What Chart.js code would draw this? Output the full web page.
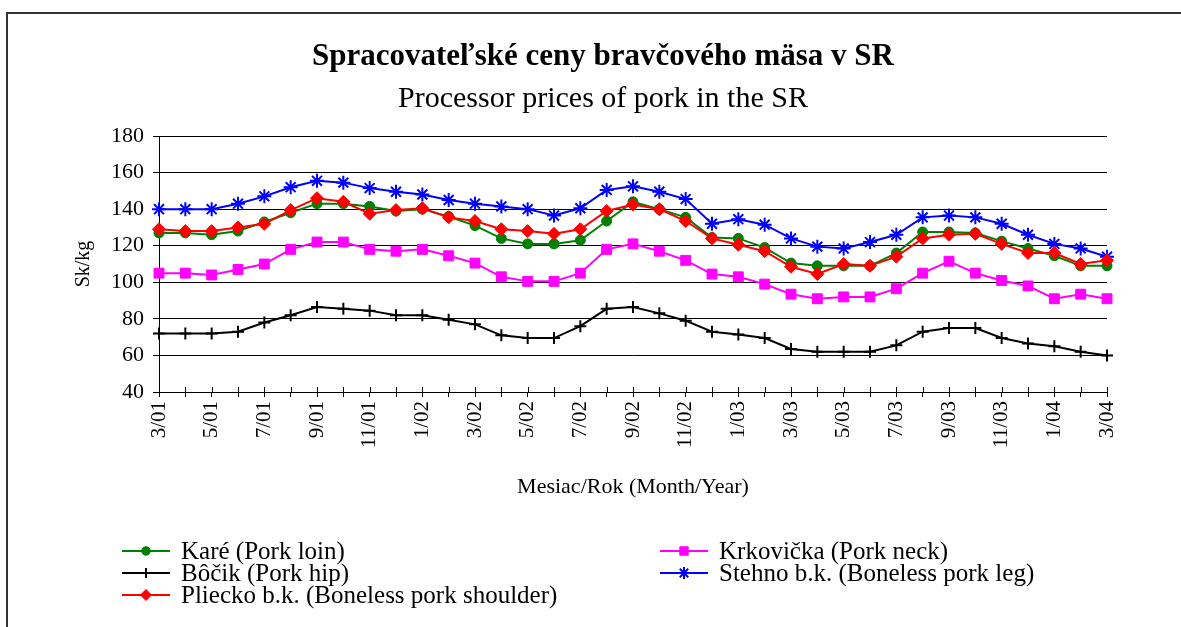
<!DOCTYPE html>
<html>
<head>
<meta charset="utf-8">
<script src="https://cdn.jsdelivr.net/npm/chart.js@4.4.1/dist/chart.umd.min.js"></script>
<style>
    html, body { margin: 0; padding: 0; background: #fff; }
    body { width: 1181px; height: 627px; position: relative; overflow: hidden; font-family: 'Liberation Serif', 'Times New Roman', serif; color: #000; }
    #frame { position: absolute; left: 6px; top: 12px; width: 1400px; height: 800px; border-left: 2px solid #333; border-top: 2px solid #333; }
    #chart { position: absolute; left: 0; top: 0; }
    .title { position: absolute; left: 0; width: 1206px; text-align: center; white-space: nowrap; }
    #t1 { top: 36px; font-size: 31px; font-weight: bold; line-height: 38px; }
    #t2 { top: 78px; font-size: 30px; line-height: 38px; }
    .leg { position: absolute; height: 22px; line-height: 22px; font-size: 25px; white-space: nowrap; }
    .leg canvas { position: absolute; left: 0; top: 3px; }
    .leg span { position: absolute; left: 59px; top: 0; }
</style>
</head>
<body>
<div id="frame"></div>
<canvas id="chart" width="1181" height="627"></canvas>
<div class="title" id="t1">Spracovateľské ceny bravčového mäsa v SR</div>
<div class="title" id="t2">Processor prices of pork in the SR</div>
<div id="legend"></div>
<script>
const months = [
    '3/01', '4/01', '5/01', '6/01', '7/01', '8/01', '9/01', '10/01', '11/01', '12/01',
    '1/02', '2/02', '3/02', '4/02', '5/02', '6/02', '7/02', '8/02', '9/02', '10/02', '11/02', '12/02',
    '1/03', '2/03', '3/03', '4/03', '5/03', '6/03', '7/03', '8/03', '9/03', '10/03', '11/03', '12/03',
    '1/04', '2/04', '3/04'
];

const kare = [127, 127, 126, 128, 133, 138, 143, 143, 141.5, 139, 140, 136, 131, 124, 121, 121, 123,
    133.5, 144, 140, 135.5, 124.5, 124, 119, 110.5, 109, 109, 109, 116, 127.5, 127.5, 127, 122.5, 118.5, 114.5, 109, 109];
const krkovicka = [105, 105, 104, 107, 110, 118, 122, 122, 118, 117, 118, 114.5, 110.5, 103, 100.5, 100.5, 105,
    118, 121, 117, 112, 104.5, 103, 99, 93.5, 91, 92, 92, 96.5, 105, 111.5, 105, 101, 98, 91, 93.5, 91];
const bocik = [72, 72, 72, 73, 78, 82, 86.5, 85.5, 84.5, 82, 82, 79.5, 77, 71, 69.5, 69.5, 76,
    85.5, 86.5, 83, 79, 73, 71.5, 69.5, 63.5, 62, 62, 62, 65.5, 73, 75, 75, 69.5, 66.5, 65, 62, 60];
const stehno = [140, 140, 140, 143, 147, 152, 155.5, 154.5, 151.5, 149.5, 148, 145, 143, 141.5, 140, 136.5, 140.5,
    150.5, 152.5, 149.5, 145.5, 132, 134.5, 131.5, 124, 119.5, 118.5, 122, 126, 135.5, 136.5, 135.5, 132, 126, 121, 118.5, 114];
const pliecko = [129, 128, 128, 130, 132, 139.5, 146, 144, 137.5, 139.5, 140.5, 135.5, 133.5, 129, 128, 126.5, 129,
    139, 142.5, 140, 133.5, 124, 120.5, 117, 108.5, 104.5, 110, 109, 114, 124, 126, 126.5, 121, 116, 116, 110, 112];

const yTicks = [40, 60, 80, 100, 120, 140, 160, 180];

const FONT = "'Liberation Serif', 'Times New Roman', serif";

const series = [
    { label: 'Karé (Pork loin)', data: kare, color: '#008000', style: 'circle', radius: 5, order: 4, legend: [122, 540] },
    { label: 'Krkovička (Pork neck)', data: krkovicka, color: '#ff00ff', style: 'rect', radius: 7, order: 3, legend: [660, 540] },
    { label: 'Bôčik (Pork hip)', data: bocik, color: '#000000', style: 'cross', radius: 6, order: 2, legend: [122, 562] },
    { label: 'Stehno b.k. (Boneless pork leg)', data: stehno, color: '#0000ff', style: 'star', radius: 7, order: 1, legend: [660, 562] },
    { label: 'Pliecko b.k. (Boneless pork shoulder)', data: pliecko, color: '#ff0000', style: 'rectRot', radius: 6.5, order: 0, legend: [122, 584] }
];

const datasets = series.map(s => ({
    label: s.label,
    data: s.data,
    order: s.order,
    borderColor: s.color,
    backgroundColor: s.color,
    borderWidth: 2,
    pointStyle: s.style,
    pointRadius: s.radius,
    pointBorderWidth: (s.style === 'cross' || s.style === 'star') ? 2 : 1,
    pointBorderColor: s.color,
    pointBackgroundColor: s.color,
    tension: 0,
    fill: false
}));

// small tick marks above the x axis (Excel draws them crossing the axis)
const crossTicks = {
    id: 'crossTicks',
    beforeDatasetsDraw(chart) {
        const x = chart.scales.x;
        const c = chart.ctx;
        c.save();
        c.strokeStyle = '#000';
        c.lineWidth = 1;
        c.beginPath();
        x.ticks.forEach((t, i) => {
            const px = Math.round(x.getPixelForTick(i)) + 0.5;
            c.moveTo(px, x.top - 5);
            c.lineTo(px, x.top);
        });
        c.stroke();
        c.restore();
    }
};

new Chart(document.getElementById('chart'), {
    type: 'line',
    data: { labels: months, datasets },
    options: {
        responsive: false,
        animation: false,
        layout: { padding: { left: 68, top: 136, right: 74, bottom: 125 } },
        plugins: {
            legend: { display: false },
            title: { display: false },
            tooltip: { enabled: false }
        },
        scales: {
            x: {
                offset: false,
                grid: { drawOnChartArea: false, color: '#000', tickLength: 5 },
                border: { color: '#000', width: 1 },
                ticks: {
                    autoSkip: false,
                    minRotation: 90,
                    maxRotation: 90,
                    padding: 4,
                    color: '#000',
                    font: { family: FONT, size: 21 },
                    callback: (v, i) => (i % 2 === 0 ? months[i] : '')
                },
                title: {
                    display: true,
                    text: 'Mesiac/Rok (Month/Year)',
                    color: '#000',
                    font: { family: FONT, size: 22 },
                    padding: { top: 2, bottom: 2 }
                },
                afterFit: s => { s.height = 110; }
            },
            y: {
                min: 40,
                max: 180,
                afterBuildTicks: s => { s.ticks = yTicks.map(v => ({ value: v })); },
                grid: { color: '#000', tickLength: 6 },
                border: { color: '#000', width: 1 },
                ticks: {
                    padding: 9,
                    color: '#000',
                    font: { family: FONT, size: 22 }
                },
                title: {
                    display: true,
                    text: 'Sk/kg',
                    color: '#000',
                    font: { family: FONT, size: 20 },
                    padding: { top: 4, bottom: 4 }
                },
                afterFit: s => { s.width = 91; }
            }
        }
    },
    plugins: [crossTicks]
});

// legend: html text with a line + marker sample drawn by Chart.js helpers
const legendBox = document.getElementById('legend');
series.forEach(s => {
    const item = document.createElement('div');
    item.className = 'leg';
    item.style.left = s.legend[0] + 'px';
    item.style.top = s.legend[1] + 'px';
    const cv = document.createElement('canvas');
    cv.width = 50;
    cv.height = 16;
    const span = document.createElement('span');
    span.textContent = s.label;
    item.appendChild(cv);
    item.appendChild(span);
    legendBox.appendChild(item);

    const c = cv.getContext('2d');
    c.strokeStyle = s.color;
    c.lineWidth = 2;
    c.beginPath();
    c.moveTo(0, 8);
    c.lineTo(48, 8);
    c.stroke();
    c.fillStyle = s.color;
    c.lineWidth = (s.style === 'cross' || s.style === 'star') ? 2 : 1;
    const opts = { pointStyle: s.style, radius: s.radius * 0.85, borderWidth: c.lineWidth, rotation: 0 };
    if (Chart.helpers && Chart.helpers.drawPoint) {
        Chart.helpers.drawPoint(c, opts, 24, 8);
    }
});
</script>
</body>
</html>
